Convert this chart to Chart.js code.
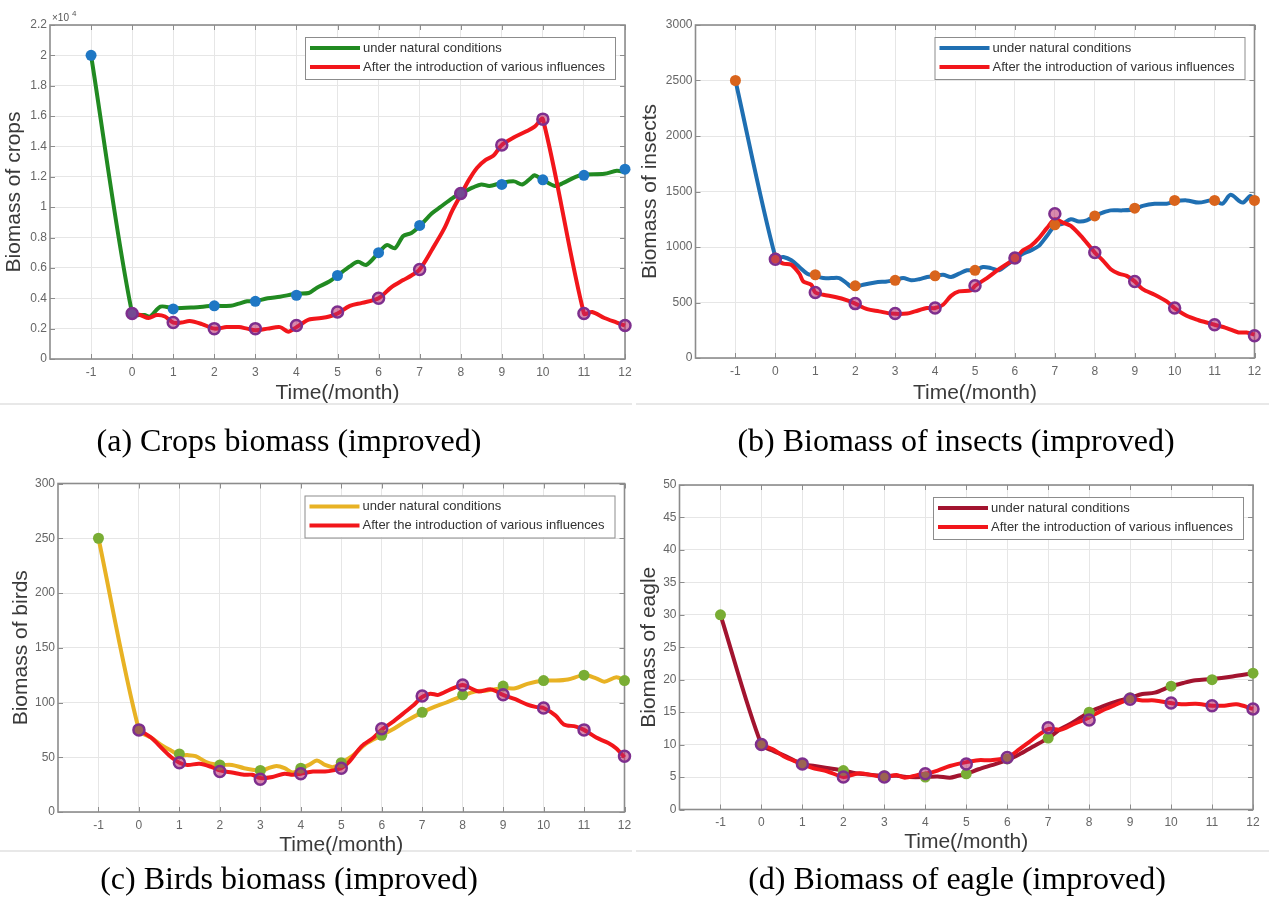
<!DOCTYPE html>
<html>
<head>
<meta charset="utf-8">
<script src="https://cdn.jsdelivr.net/npm/chart.js@4"></script>
<style>
body { margin:0; background:#fff; width:1269px; height:908px; position:relative; overflow:hidden; }
canvas { position:absolute; }
.cap { position:absolute; width:600px; text-align:center; white-space:nowrap; color:#000;
  font-family:"Liberation Serif","Times New Roman",serif; font-size:32px; line-height:32px; }
.edge { position:absolute; height:2px; background:#e8e8e8; }
</style>
</head>
<body>
<div class="edge" style="left:0;top:403px;width:632px"></div>
<div class="edge" style="left:636px;top:403px;width:633px"></div>
<div class="edge" style="left:0;top:850px;width:632px"></div>
<div class="edge" style="left:636px;top:850px;width:633px"></div>

<canvas id="cA" width="640" height="410" style="left:0;top:0"></canvas>
<canvas id="cB" width="639" height="410" style="left:630px;top:0"></canvas>
<canvas id="cC" width="640" height="410" style="left:0;top:455px"></canvas>
<canvas id="cD" width="639" height="410" style="left:630px;top:455px"></canvas>

<div class="cap" style="left:-11px;top:424px">(a) Crops biomass (improved)</div>
<div class="cap" style="left:656px;top:424px">(b) Biomass of insects (improved)</div>
<div class="cap" style="left:-11px;top:862px">(c) Birds biomass (improved)</div>
<div class="cap" style="left:657px;top:862px">(d) Biomass of eagle (improved)</div>

<script>
// month ticks and the monthly marker positions
var months = [-1, 0, 1, 2, 3, 4, 5, 6, 7, 8, 9, 10, 11, 12];
var monthsFrom0 = [0, 1, 2, 3, 4, 5, 6, 7, 8, 9, 10, 11, 12];
var legendNames = ["under natural conditions", "After the introduction of various influences"];

// (a) crops
var cropsNatT = [-1, 0, 0.3, 0.44, 0.69, 1, 1.5, 2, 2.4, 2.6, 2.8, 3, 3.3, 3.6, 4, 4.3, 4.5, 4.8, 5, 5.3, 5.5, 5.7, 6, 6.2, 6.4, 6.6, 6.8, 7, 7.3, 7.5, 7.8, 8, 8.3, 8.5, 8.7, 9, 9.3, 9.5, 9.7, 9.8, 10, 10.3, 10.5, 10.8, 11, 11.5, 11.8, 12];
var cropsNatV = [20000, 3000, 2900, 2800, 3450, 3350, 3400, 3500, 3500, 3650, 3800, 3800, 4000, 4100, 4300, 4350, 4700, 5100, 5500, 6100, 6400, 6200, 7000, 7500, 7300, 8100, 8300, 8750, 9600, 10000, 10600, 10900, 11300, 11500, 11400, 11600, 11700, 11500, 11900, 12100, 11800, 11400, 11600, 12000, 12150, 12200, 12400, 12300];
var cropsInfT = [0, 0.2, 0.4, 0.6, 0.8, 1, 1.2, 1.4, 1.7, 2, 2.3, 2.6, 2.8, 3, 3.3, 3.6, 3.8, 4, 4.3, 4.6, 4.8, 5, 5.3, 5.6, 6, 6.3, 6.6, 6.8, 7, 7.3, 7.6, 7.8, 8, 8.2, 8.4, 8.6, 8.8, 9, 9.3, 9.6, 9.8, 10, 11, 11.2, 11.5, 11.8, 12];
var cropsInfV = [3000, 2900, 2700, 2900, 2800, 2400, 2400, 2500, 2300, 2000, 2100, 2100, 2000, 1900, 2000, 2100, 1800, 2100, 2600, 2700, 2800, 3000, 3500, 3700, 4000, 4700, 5200, 5500, 5900, 7200, 8600, 9800, 10800, 11800, 12600, 13100, 13400, 14100, 14600, 15000, 15300, 15800, 3000, 3100, 2700, 2400, 2200];
var cropsNatMark = [20000, 3000, 3300, 3500, 3800, 4200, 5500, 7000, 8800, 10900, 11500, 11800, 12100, 12500];
var cropsInfMark = [3000, 2400, 2000, 2000, 2200, 3100, 4000, 5900, 10900, 14100, 15800, 3000, 2200];

// (b) insects
var insNatT = [-1, 0, 0.2, 0.4, 0.6, 0.8, 1, 1.2, 1.4, 1.6, 1.8, 1.9, 2, 2.2, 2.5, 2.8, 3, 3.2, 3.4, 3.6, 3.8, 4, 4.2, 4.4, 4.6, 4.8, 5, 5.2, 5.4, 5.6, 5.8, 6, 6.2, 6.4, 6.6, 6.8, 7, 7.2, 7.4, 7.6, 7.8, 8, 8.2, 8.4, 8.7, 9, 9.2, 9.5, 9.8, 10, 10.3, 10.6, 10.9, 11, 11.2, 11.4, 11.7, 11.9, 12];
var insNatV = [2500, 910, 910, 880, 820, 760, 740, 720, 720, 720, 670, 640, 640, 660, 680, 690, 700, 720, 700, 710, 730, 740, 750, 730, 760, 790, 790, 820, 810, 790, 840, 890, 940, 970, 1010, 1100, 1190, 1210, 1250, 1230, 1240, 1280, 1310, 1330, 1330, 1340, 1370, 1390, 1390, 1410, 1420, 1400, 1420, 1420, 1390, 1470, 1400, 1460, 1420];
var insInfT = [0, 0.2, 0.4, 0.6, 0.7, 0.9, 1, 1.2, 1.5, 1.8, 2, 2.3, 2.6, 2.9, 3.3, 3.5, 3.8, 4, 4.2, 4.4, 4.6, 4.9, 5, 5.3, 5.6, 5.9, 6, 6.2, 6.4, 6.6, 6.8, 7, 7.2, 7.4, 7.7, 8, 8.2, 8.4, 8.6, 8.8, 9, 9.2, 9.5, 9.8, 10, 10.3, 10.6, 10.8, 11, 11.3, 11.6, 11.8, 12];
var insInfV = [890, 850, 840, 760, 690, 660, 590, 570, 550, 520, 490, 440, 420, 400, 400, 420, 450, 450, 480, 560, 600, 610, 650, 720, 800, 870, 890, 970, 1010, 1080, 1170, 1250, 1220, 1190, 1080, 950, 880, 800, 760, 740, 690, 620, 570, 510, 450, 380, 340, 320, 300, 270, 230, 230, 210];
var insNatMark = [2500, 900, 750, 650, 700, 740, 790, 900, 1200, 1280, 1350, 1420, 1420, 1420];
var insInfMark = [890, 590, 490, 400, 450, 650, 900, 1300, 950, 690, 450, 300, 200];

// (c) birds
var birdNatT = [-1, 0, 0.3, 0.6, 0.8, 1, 1.2, 1.4, 1.7, 2, 2.3, 2.6, 2.9, 3, 3.2, 3.4, 3.6, 3.8, 4, 4.2, 4.4, 4.6, 4.8, 5, 5.3, 5.6, 6, 6.3, 6.6, 7, 7.3, 7.6, 8, 8.3, 8.6, 9, 9.3, 9.6, 10, 10.3, 10.6, 11, 11.3, 11.5, 11.8, 12];
var birdNatV = [250, 75, 68, 60, 56, 52, 52, 51, 45, 43, 43, 40, 38, 37, 40, 42, 40, 36, 40, 43, 47, 43, 41, 45, 52, 62, 70, 76, 83, 91, 96, 100, 106, 110, 111, 113, 113, 117, 120, 120, 121, 125, 122, 119, 123, 120];
var birdInfT = [0, 0.3, 0.6, 0.8, 1, 1.2, 1.5, 1.8, 2, 2.3, 2.6, 2.8, 3, 3.3, 3.6, 3.8, 4, 4.3, 4.6, 4.8, 5, 5.2, 5.5, 5.8, 6, 6.3, 6.6, 6.8, 7, 7.2, 7.4, 7.7, 8, 8.2, 8.4, 8.7, 9, 9.3, 9.6, 9.8, 10, 10.3, 10.5, 10.8, 11, 11.3, 11.6, 11.8, 12];
var birdInfV = [75, 68, 57, 50, 45, 43, 44, 41, 38, 36, 34, 34, 31, 32, 35, 34, 35, 37, 37, 38, 40, 46, 60, 68, 75, 83, 92, 98, 105, 108, 107, 112, 116, 113, 110, 112, 107, 103, 98, 96, 95, 88, 80, 78, 75, 68, 63, 58, 50];
var birdNatMark = [250, 75, 53, 43, 38, 40, 45, 70, 91, 107, 115, 120, 125, 120];
var birdInfMark = [75, 45, 37, 30, 35, 40, 76, 106, 116, 107, 95, 75, 51];

// (d) eagle
var eagNatT = [-1, 0, 0.3, 0.6, 1, 1.3, 1.6, 2, 2.3, 2.6, 3, 3.3, 3.6, 4, 4.3, 4.6, 4.8, 5, 5.3, 5.6, 6, 6.3, 6.6, 7, 7.3, 7.6, 8, 8.3, 8.6, 9, 9.3, 9.6, 10, 10.3, 10.6, 11, 11.5, 12];
var eagNatV = [30, 10, 9, 8.2, 7, 6.7, 6.4, 6, 5.6, 5.4, 5.2, 5.2, 5, 5, 5.1, 4.9, 5.2, 5.5, 6.2, 6.8, 7.6, 8.5, 9.6, 11, 12.4, 13.4, 15, 15.8, 16.5, 17.2, 17.8, 18, 19, 19.5, 19.9, 20.1, 20.5, 21];
var eagInfT = [0, 0.3, 0.6, 1, 1.3, 1.6, 2, 2.2, 2.4, 2.7, 3, 3.3, 3.5, 3.8, 4, 4.3, 4.6, 5, 5.3, 5.6, 6, 6.3, 6.6, 7, 7.3, 7.6, 8, 8.3, 8.6, 9, 9.3, 9.6, 10, 10.3, 10.6, 11, 11.3, 11.6, 12];
var eagInfV = [10, 9.2, 8, 7, 6.3, 5.9, 5, 5.3, 5.6, 5.3, 5, 5.3, 4.9, 5.3, 5.5, 6, 6.7, 7.3, 7.6, 7.6, 8, 9.3, 10.7, 12.4, 12.3, 13.1, 14.2, 15.2, 16, 17, 16.8, 16.8, 16.4, 16.2, 16.3, 16, 16, 16.2, 15.5];
var eagNatMark = [30, 10, 7, 6, 5.2, 5, 5.5, 7.8, 11, 15, 17.2, 19, 20, 21];
var eagInfMark = [10, 7, 5, 5, 5.5, 7, 8, 12.6, 13.8, 17, 16.4, 16, 15.5];

function pts(xs, ys) {
  return xs.map(function (x, i) { return { x: x, y: ys[i] }; });
}

Chart.defaults.font.family = "'Liberation Sans', Arial, sans-serif";
Chart.defaults.animation = false;

var AXIS = "#8c8c8c";
var RED = "#f2161b";
var PURPLE = "#7e2f8e";

// box, inward ticks, legend and the x10^4 note, drawn the matlab way
var matlabBox = {
  id: "matlabBox",
  beforeDatasetsDraw: function (chart) {
    var ctx = chart.ctx, a = chart.chartArea, sx = chart.scales.x, sy = chart.scales.y;
    ctx.save();
    ctx.strokeStyle = AXIS;
    ctx.lineWidth = 1;
    ctx.beginPath();
    sx.ticks.forEach(function (t) {
      var px = Math.round(sx.getPixelForValue(t.value)) + 0.5;
      ctx.moveTo(px, a.bottom); ctx.lineTo(px, a.bottom - 5);
      ctx.moveTo(px, a.top); ctx.lineTo(px, a.top + 5);
    });
    sy.ticks.forEach(function (t) {
      var py = Math.round(sy.getPixelForValue(t.value)) + 0.5;
      ctx.moveTo(a.left, py); ctx.lineTo(a.left + 5, py);
      ctx.moveTo(a.right, py); ctx.lineTo(a.right - 5, py);
    });
    ctx.stroke();
    ctx.lineWidth = 1.6;
    ctx.strokeRect(a.left, a.top, a.right - a.left, a.bottom - a.top);
    ctx.restore();
  },
  afterDraw: function (chart, args, opts) {
    var ctx = chart.ctx, a = chart.chartArea;
    var ds = chart.data.datasets;
    ctx.save();
    var w = 310, h = 42;
    var bx = a.right - 10 - w, by = a.top + 12;
    ctx.fillStyle = "#fff";
    ctx.fillRect(bx, by, w, h);
    ctx.strokeStyle = AXIS;
    ctx.lineWidth = 1;
    ctx.strokeRect(bx + 0.5, by + 0.5, w, h);
    ctx.font = "13px 'Liberation Sans', Arial, sans-serif";
    ctx.textBaseline = "middle";
    for (var i = 0; i < 2; i++) {
      var ry = by + 11 + i * 19;
      ctx.strokeStyle = ds[i].borderColor;
      ctx.lineWidth = 4;
      ctx.beginPath();
      ctx.moveTo(bx + 5, ry); ctx.lineTo(bx + 55, ry);
      ctx.stroke();
      ctx.fillStyle = "#333";
      ctx.fillText(legendNames[i], bx + 58, ry);
    }
    if (opts.exponent) {
      ctx.fillStyle = "#555";
      ctx.textBaseline = "alphabetic";
      ctx.font = "10px 'Liberation Sans', Arial, sans-serif";
      ctx.fillText("\u00d710", a.left + 2, a.top - 4);
      ctx.font = "8px 'Liberation Sans', Arial, sans-serif";
      ctx.fillText(opts.exponent, a.left + 22, a.top - 9);
    }
    ctx.restore();
  }
};

function makePanel(id, p) {
  new Chart(document.getElementById(id), {
    type: "line",
    data: {
      datasets: [
        { data: pts(p.natT, p.natV), borderColor: p.natColor, borderWidth: 4, pointRadius: 0,
          tension: 0.3, clip: false, order: 4 },
        { data: pts(p.infT, p.infV), borderColor: RED, borderWidth: 4, pointRadius: 0,
          tension: 0.3, clip: false, order: 3 },
        { data: pts(months, p.natMark), showLine: false, pointRadius: 5.5, pointBorderWidth: 0,
          pointBackgroundColor: p.markColor, clip: false, order: 2 },
        { data: pts(monthsFrom0, p.infMark), showLine: false, pointRadius: 5.5, pointBorderWidth: 2.5,
          pointBorderColor: PURPLE, pointBackgroundColor: "rgba(185,40,105,0.55)", clip: false, order: 1 }
      ]
    },
    options: {
      responsive: false,
      devicePixelRatio: 1,
      layout: { padding: { top: p.padTop, right: p.padRight, left: 0, bottom: 0 } },
      plugins: { legend: { display: false }, tooltip: { enabled: false }, matlabBox: { exponent: p.exponent } },
      scales: {
        x: {
          type: "linear", min: -2, max: 12,
          afterFit: function (s) { s.height = p.xHeight; },
          afterBuildTicks: function (s) { s.ticks = s.ticks.filter(function (t) { return t.value >= -1; }); },
          ticks: { stepSize: 1, padding: 6, color: "#666", font: { size: 12 }, maxRotation: 0, autoSkip: false },
          grid: { color: "#e6e6e6", drawTicks: false },
          border: { display: false },
          title: { display: true, text: "Time(/month)", color: "#3a3a3a", font: { size: 21 },
            padding: { top: 0, bottom: p.xTitlePad } }
        },
        y: {
          min: 0, max: p.yMax,
          afterFit: function (s) { s.width = p.yWidth; },
          ticks: { stepSize: p.yStep, padding: 3, color: "#666", font: { size: 12 }, autoSkip: false,
            callback: p.yLabel },
          grid: { color: "#e6e6e6", drawTicks: false },
          border: { display: false },
          title: { display: true, text: p.yTitle, color: "#3a3a3a", font: { size: 21 },
            padding: { top: p.yTitlePad, bottom: 0 } }
        }
      }
    },
    plugins: [matlabBox]
  });
}

var plain = function (v) { return v; };

makePanel("cA", {
  natT: cropsNatT, natV: cropsNatV, infT: cropsInfT, infV: cropsInfV,
  natMark: cropsNatMark, infMark: cropsInfMark,
  natColor: "#218a21", markColor: "#1f77c4",
  yMax: 22000, yStep: 2000, yTitle: "Biomass of crops", exponent: "4",
  yLabel: function (v) { return Math.round(v / 1000) / 10; },
  padTop: 25, padRight: 15, yWidth: 50, xHeight: 51, xTitlePad: 4, yTitlePad: 2
});
makePanel("cB", {
  natT: insNatT, natV: insNatV, infT: insInfT, infV: insInfV,
  natMark: insNatMark, infMark: insInfMark,
  natColor: "#1f6fb2", markColor: "#d9641c",
  yMax: 3000, yStep: 500, yTitle: "Biomass of insects",
  yLabel: plain,
  padTop: 25, padRight: 14.5, yWidth: 65.5, xHeight: 52, xTitlePad: 4, yTitlePad: 8
});
makePanel("cC", {
  natT: birdNatT, natV: birdNatV, infT: birdInfT, infV: birdInfV,
  natMark: birdNatMark, infMark: birdInfMark,
  natColor: "#e8b224", markColor: "#79ad34",
  yMax: 300, yStep: 50, yTitle: "Biomass of birds",
  yLabel: plain,
  padTop: 28.5, padRight: 15.5, yWidth: 58, xHeight: 53, xTitlePad: 7, yTitlePad: 9
});
makePanel("cD", {
  natT: eagNatT, natV: eagNatV, infT: eagInfT, infV: eagInfV,
  natMark: eagNatMark, infMark: eagInfMark,
  natColor: "#a2142f", markColor: "#79ad34",
  yMax: 50, yStep: 5, yTitle: "Biomass of eagle",
  yLabel: plain,
  padTop: 30, padRight: 16, yWidth: 49.5, xHeight: 55.5, xTitlePad: 10, yTitlePad: 7
});
</script>
</body>
</html>
